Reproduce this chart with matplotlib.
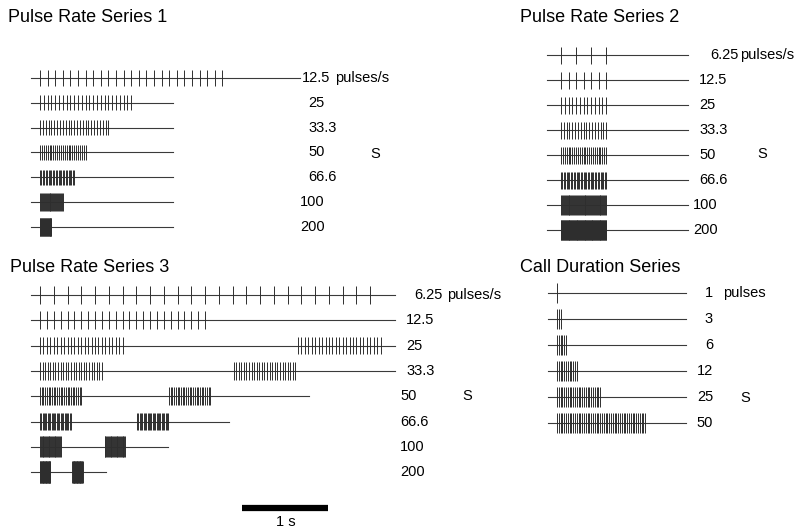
import numpy as np
import matplotlib.pyplot as plt

plt.rcParams['font.family'] = ['Liberation Sans', 'DejaVu Sans']

W, H = 802, 530

# ---- data (times in seconds) ----
s1_labels = ['12.5', '25', '33.3', '50', '66.6', '100', '200']
s1_rates = [12.5, 25, 33.3, 50, 66.6, 100, 200]
s1_npulses = [25, 25, 25, 25, 25, 25, 25]
s1_trace_end = [2.74, 1.40, 1.40, 1.40, 1.40, 1.40, 1.40]

s2_labels = ['6.25', '12.5', '25', '33.3', '50', '66.6', '100', '200']
s2_rates = [6.25, 12.5, 25, 33.3, 50, 66.6, 100, 200]
s2_npulses = [4, 7, 13, 17, 25, 33, 49, 97]
s2_trace_end = [1.35] * 8

s3_labels = ['6.25', '12.5', '25', '33.3', '50', '66.6', '100', '200']
s3_rates = [6.25, 12.5, 25, 33.3, 50, 66.6, 100, 200]
s3_npulses = [25] * 8
s3_nbursts = [1, 1, 2, 2, 2, 2, 2, 2]
s3_period = [12.0, 6.0, 3.0, 2.25, 1.5, 1.13, 0.75, 0.375]
s3_trace_end = [4.13, 4.13, 4.13, 4.13, 3.13, 2.2, 1.49, 0.77]

cd_labels = ['1', '3', '6', '12', '25', '50']
cd_rate = 50
cd_npulses = [1, 3, 6, 12, 25, 50]
cd_trace_end = [1.43] * 6

fig = plt.figure(figsize=(W / 100, H / 100), dpi=100)


def panel_axes(left, top, width, height, t0_px, px_per_s, row0_px, row_step):
    # axes placed in pixel layout; x in seconds, y in row index
    ax = fig.add_axes([left / W, 1 - (top + height) / H, width / W, height / H])
    ax.set_xlim((left - t0_px) / px_per_s, (left + width - t0_px) / px_per_s)
    ax.set_ylim((top + height - row0_px) / row_step, (top - row0_px) / row_step)
    ax.axis('off')
    return ax


def draw_train(ax, row, rate, n, trace_start, trace_end, amp, nbursts=1, period=0.0):
    ax.plot([trace_start, trace_end], [row, row], color='#3a3a3a', lw=0.8)
    if rate >= 100:
        amp *= 1.2
    for b in range(nbursts):
        t = b * period + np.arange(n) / rate
        ax.vlines(t, row - amp, row + amp, color='#2e2e2e', lw=0.7)


def label(x, y, s, ha='left', size=10.5):
    fig.text(x / W, 1 - y / H, s, ha=ha, va='center', fontsize=size)


# Pulse Rate Series 1
ax1 = panel_axes(0, 53, 400, 199, 40, 95, 78, 24.8)
for i in range(len(s1_rates)):
    draw_train(ax1, i, s1_rates[i], s1_npulses[i], -0.095, s1_trace_end[i], 0.31)
label(8, 18, 'Pulse Rate Series 1', size=13)
s1_lx = [302, 308, 308, 308, 308, 300, 300]
for i, s in enumerate(s1_labels):
    label(s1_lx[i], 78 + 24.8 * i, s)
label(335, 78, 'pulses/s')
label(370, 154, 'S')

# Pulse Rate Series 2
ax2 = panel_axes(500, 30, 302, 225, 561, 94, 55, 25)
for i in range(len(s2_rates)):
    draw_train(ax2, i, s2_rates[i], s2_npulses[i], -0.15, s2_trace_end[i], 0.34)
label(520, 18, 'Pulse Rate Series 2', size=13)
s2_lx = [710, 699, 699, 699, 699, 699, 693, 693]
for i, s in enumerate(s2_labels):
    label(s2_lx[i], 55 + 25 * i, s)
label(740, 55, 'pulses/s')
label(757, 154, 'S')

# Pulse Rate Series 3
ax3 = panel_axes(0, 270, 480, 260, 40, 86, 295, 25.3)
for i in range(len(s3_rates)):
    draw_train(ax3, i, s3_rates[i], s3_npulses[i], -0.105, s3_trace_end[i], 0.35,
               s3_nbursts[i], s3_period[i])
label(10, 268, 'Pulse Rate Series 3', size=13)
s3_lx = [414, 406, 406, 406, 400, 400, 400, 400]
for i, s in enumerate(s3_labels):
    label(s3_lx[i], 295 + 25.3 * i, s)
label(447, 295, 'pulses/s')
label(462, 396, 'S')

# scale bar: 1 s
bar_row = (508 - 295) / 25.3
ax3.plot([2.35, 3.35], [bar_row, bar_row], color='black', lw=4.5, solid_capstyle='butt')
label(286, 522, '1 s', ha='center')

# Call Duration Series
ax4 = panel_axes(500, 270, 302, 180, 557, 90, 293, 26)
for i in range(len(cd_npulses)):
    draw_train(ax4, i, cd_rate, cd_npulses[i], -0.1, cd_trace_end[i], 0.38)
label(520, 267, 'Call Duration Series', size=13)
for i, s in enumerate(cd_labels):
    label(713, 293 + 26 * i, s, ha='right')
label(723, 293, 'pulses')
label(740, 398, 'S')

fig.savefig('out.png', dpi=100)
